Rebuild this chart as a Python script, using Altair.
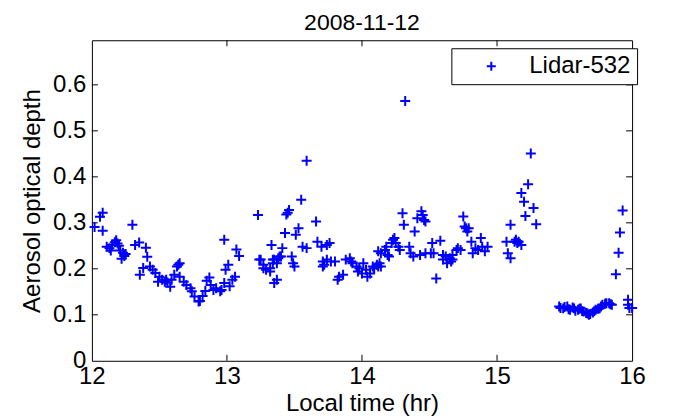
import altair as alt
import pandas as pd

# ---- data ----
times = [
    12.02, 12.06, 12.08, 12.08, 12.11, 12.13, 12.14, 12.15, 12.17, 12.18,
    12.19, 12.20, 12.21, 12.23, 12.22, 12.24, 12.25, 12.30, 12.32, 12.35,
    12.40, 12.41, 12.355, 12.38, 12.43, 12.45, 12.47, 12.49, 12.50, 12.52,
    12.54, 12.55, 12.56, 12.58, 12.59, 12.61, 12.64, 12.65, 12.63, 12.65,
    12.68, 12.70, 12.73, 12.74, 12.76, 12.79, 12.80, 12.82, 12.84, 12.85,
    12.87, 12.88, 12.90, 12.92, 12.95, 12.96, 12.98, 12.98, 12.99, 13.01,
    13.02, 13.04, 13.06, 13.07, 13.09,
    13.23, 13.24, 13.25, 13.27, 13.27, 13.29, 13.32, 13.32, 13.33, 13.34,
    13.34, 13.35, 13.35, 13.37, 13.37, 13.38, 13.39, 13.40, 13.41, 13.43,
    13.45, 13.46, 13.44, 13.48, 13.49, 13.50, 13.51, 13.53, 13.55, 13.56,
    13.59, 13.59, 13.66, 13.67, 13.70, 13.71, 13.71, 13.72, 13.74, 13.74,
    13.76, 13.77, 13.80, 13.82, 13.83, 13.86, 13.88, 13.91, 13.92, 13.93,
    13.96, 13.97, 13.98, 14.00, 14.01, 14.03, 14.04, 14.06, 14.08, 14.09,
    14.11, 14.12, 14.12, 14.13, 14.14, 14.14, 14.17, 14.18, 14.19, 14.20,
    14.22, 14.23, 14.24, 14.25, 14.27, 14.28, 14.30, 14.31, 14.32, 14.35,
    14.36, 14.38, 14.39, 14.41, 14.43, 14.44, 14.45, 14.46, 14.47, 14.47,
    14.51, 14.52, 14.53, 14.55, 14.58, 14.60, 14.60, 14.62, 14.63, 14.65,
    14.66, 14.67, 14.67, 14.70, 14.71, 14.73, 14.75, 14.76, 14.77, 14.78,
    14.79, 14.81, 14.82, 14.84, 14.86, 14.88, 14.89, 14.91, 14.93,
    15.07, 15.08, 15.10, 15.10, 15.13, 15.14, 15.15, 15.16, 15.18, 15.18,
    15.20, 15.21, 15.23, 15.25, 15.27, 15.29,
    15.46, 15.47, 15.49, 15.50, 15.52, 15.53, 15.54, 15.56, 15.57, 15.58,
    15.60, 15.61, 15.62, 15.63, 15.64, 15.66, 15.67, 15.68, 15.69, 15.71,
    15.72, 15.73, 15.75, 15.76, 15.77, 15.78, 15.80, 15.81, 15.83, 15.84,
    15.85, 15.88, 15.90, 15.91, 15.93, 15.97, 15.97, 15.98, 16.00,
]
aod = [
    0.291, 0.313, 0.322, 0.283, 0.248, 0.245, 0.240, 0.252, 0.258, 0.262,
    0.255, 0.250, 0.240, 0.235, 0.222, 0.228, 0.232, 0.296, 0.252, 0.257,
    0.246, 0.226, 0.187, 0.202, 0.205, 0.198, 0.191, 0.172, 0.183, 0.176,
    0.172, 0.176, 0.170, 0.161, 0.176, 0.187, 0.209, 0.212, 0.205, 0.183,
    0.172, 0.165, 0.158, 0.151, 0.140, 0.129, 0.130, 0.141, 0.152, 0.174,
    0.181, 0.165, 0.154, 0.158, 0.151, 0.154, 0.169, 0.263, 0.198, 0.209,
    0.162, 0.176, 0.183, 0.242, 0.228,
    0.317, 0.220, 0.220, 0.209, 0.201, 0.198, 0.194, 0.201, 0.252, 0.220,
    0.212, 0.220, 0.169, 0.176, 0.212, 0.223, 0.227, 0.227, 0.245, 0.278,
    0.322, 0.328, 0.318, 0.227, 0.212, 0.205, 0.274, 0.288, 0.350, 0.248,
    0.245, 0.435, 0.303, 0.259, 0.248, 0.216, 0.205, 0.209, 0.252, 0.220,
    0.256, 0.216, 0.216, 0.176, 0.183, 0.187, 0.220, 0.223, 0.216, 0.212,
    0.205, 0.194, 0.201, 0.190, 0.212, 0.198, 0.183, 0.190, 0.205, 0.201,
    0.209, 0.205, 0.238, 0.212, 0.205, 0.234, 0.241, 0.248, 0.230, 0.227,
    0.256, 0.263, 0.267, 0.256, 0.248, 0.241, 0.321, 0.296, 0.565, 0.248,
    0.234, 0.227, 0.281, 0.310, 0.230, 0.325, 0.317, 0.306, 0.303, 0.234,
    0.234, 0.256, 0.234, 0.179, 0.261, 0.220, 0.230, 0.227, 0.212, 0.223,
    0.216, 0.230, 0.220, 0.241, 0.245, 0.241, 0.314, 0.292, 0.288, 0.281,
    0.288, 0.259, 0.234, 0.245, 0.241, 0.267, 0.248, 0.238, 0.248,
    0.259, 0.234, 0.296, 0.223, 0.259, 0.263, 0.256, 0.259, 0.252, 0.365,
    0.346, 0.315, 0.384, 0.451, 0.332, 0.297,
    0.118, 0.115, 0.114, 0.117, 0.118, 0.112, 0.111, 0.116, 0.114, 0.109,
    0.111, 0.113, 0.114, 0.108, 0.107, 0.104, 0.103, 0.100, 0.102, 0.105,
    0.108, 0.111, 0.113, 0.114, 0.118, 0.122, 0.124, 0.125, 0.125, 0.123,
    0.122, 0.188, 0.235, 0.279, 0.327, 0.133, 0.122, 0.115, 0.115,
]
series_name = "Lidar-532"
x_ticks = [12, 13, 14, 15, 16]
x_inner_ticks = [13, 14, 15]
y_ticks = [0, 0.1, 0.2, 0.3, 0.4, 0.5, 0.6]
y_inner_ticks = [0.1, 0.2, 0.3, 0.4, 0.5, 0.6]

FONT = "Liberation Sans"
PLUS = "M-1,0L1,0M0,-1L0,1"
W, H = 541, 321
TICK = 6

df = pd.DataFrame({"t": times, "aod": aod, "series": [series_name] * len(times)})
xt = pd.DataFrame({"t": x_inner_ticks})
yt = pd.DataFrame({"v": y_inner_ticks})

xscale = alt.Scale(domain=[12, 16], nice=False, zero=False)
yscale = alt.Scale(domain=[0, 0.697], nice=False)

points = alt.Chart(df).mark_point(
    shape=PLUS, filled=False, strokeWidth=2, size=100, opacity=1
).encode(
    x=alt.X("t:Q", scale=xscale,
            axis=alt.Axis(values=x_ticks, title="Local time (hr)", domain=False,
                          ticks=False, grid=False, labelPadding=4, titlePadding=3,
                          format="d", labelFlush=False, labelOverlap=False)),
    y=alt.Y("aod:Q", scale=yscale,
            axis=alt.Axis(values=y_ticks, title="Aerosol optical depth", domain=False,
                          ticks=False, grid=False, labelPadding=6, titlePadding=8,
                          labelFlush=False, labelOverlap=False,
                          labelExpr="datum.value == 0 ? '0' : format(datum.value, '.1f')")),
    color=alt.Color("series:N", scale=alt.Scale(range=["#0000FF"]),
                    legend=alt.Legend(title=None, orient="none", legendX=360, legendY=8,
                                      strokeColor="black", fillColor="white", padding=6,
                                      symbolType=PLUS, symbolSize=81, symbolStrokeWidth=2,
                                      symbolOffset=22, labelOffset=26, labelFontSize=24,
                                      labelFont=FONT, labelColor="black", cornerRadius=0)),
)

bottom_ticks = alt.Chart(xt).mark_rule(color="black", strokeWidth=1).encode(
    x=alt.X("t:Q", scale=xscale), y=alt.value(H), y2=alt.value(H - TICK))
top_ticks = alt.Chart(xt).mark_rule(color="black", strokeWidth=1).encode(
    x=alt.X("t:Q", scale=xscale), y=alt.value(0), y2=alt.value(TICK))
left_ticks = alt.Chart(yt).mark_rule(color="black", strokeWidth=1).encode(
    y=alt.Y("v:Q", scale=yscale), x=alt.value(0), x2=alt.value(TICK))
right_ticks = alt.Chart(yt).mark_rule(color="black", strokeWidth=1).encode(
    y=alt.Y("v:Q", scale=yscale), x=alt.value(W), x2=alt.value(W - TICK))

chart = alt.layer(bottom_ticks, top_ticks, left_ticks, right_ticks, points).properties(
    width=W, height=H,
    title=alt.Title("2008-11-12", fontSize=23, font=FONT, fontWeight="normal",
                    color="black", offset=5),
    autosize=alt.AutoSizeParams(type="none"),
    padding={"left": 84, "top": 32, "right": 60, "bottom": 72},
    background="white",
).configure_view(
    stroke="black", strokeWidth=1
).configure_axis(
    labelFont=FONT, titleFont=FONT, labelFontSize=24, titleFontSize=24,
    labelColor="black", titleColor="black", titleFontWeight="normal",
)

chart.save("out.html", embed_options={"renderer": "svg", "actions": False})
